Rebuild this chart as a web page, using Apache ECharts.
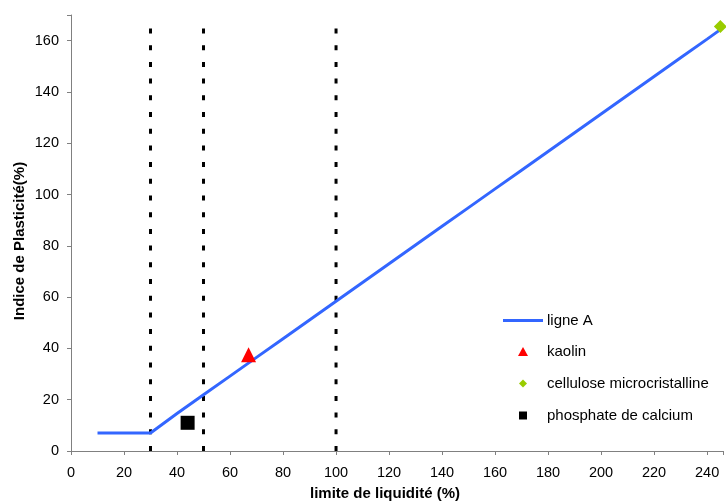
<!DOCTYPE html>
<html>
<head>
<meta charset="utf-8">
<script src="https://cdn.jsdelivr.net/npm/echarts@6/dist/echarts.min.js"></script>
<style>html,body{margin:0;padding:0;background:#fff;}#c{width:726px;height:501px;}</style>
</head>
<body>
<div id="c"></div>
<script>
const ligneA = [[10,7],[20,7],[30,7],[40,14.6],[50,21.9],[60,29.2],[70,36.5],[80,43.8],[90,51.1],[100,58.4],[110,65.7],[120,73],[130,80.3],[140,87.6],[150,94.9],[160,102.2],[170,109.5],[180,116.8],[190,124.1],[200,131.4],[210,138.7],[220,146],[230,153.3],[240,160.6],[245,164.3]];
const kaolin = [[67,37.5]];
const cellulose = [[245,165.5]];
const phosphate = [[44,11]];
const vLines = [30,50,100];
const vLineTop = 165;
const xTicks = [0,20,40,60,80,100,120,140,160,180,200,220,240];
const yTicks = [0,20,40,60,80,100,120,140,160];

const font = 'Liberation Sans, Arial, sans-serif';
const chart = echarts.init(document.getElementById('c'));
const dashSeries = vLines.map(x => ({
  type: 'line', data: [[x,0],[x,vLineTop]], symbol: 'none', silent: true,
  lineStyle: {color: '#000', width: 3, type: [5, 11.7]}, z: 1
}));
const legTxt = {fontSize: 15, fontFamily: font, color: '#000'};
chart.setOption({
  animation: false,
  grid: {left: 71, top: 15, right: 0, bottom: 50},
  xAxis: {
    type: 'value', min: 0, max: 246, interval: 20,
    axisLine: {lineStyle: {color: '#808080', width: 1}},
    axisTick: {inside: false, length: 4, lineStyle: {color: '#808080'}},
    splitLine: {show: false},
    axisLabel: {color: '#000', fontSize: 14.5, fontFamily: font, margin: 14,
      formatter: v => xTicks.includes(v) ? String(v) : ''}
  },
  yAxis: {
    type: 'value', min: 0, max: 170, interval: 20,
    axisLine: {show: true, lineStyle: {color: '#808080', width: 1}},
    axisTick: {show: true, length: 4, lineStyle: {color: '#808080'}},
    splitLine: {show: false},
    axisLabel: {color: '#000', fontSize: 14.5, fontFamily: font, margin: 12,
      formatter: v => yTicks.includes(v) ? String(v) : ''}
  },
  legend: [
    {left: 503, top: 313, padding: 0, itemWidth: 40, itemHeight: 3, textStyle: Object.assign({padding: [0,0,0,-1]}, legTxt),
     data: [{name: 'ligne A', icon: 'rect', itemStyle: {color: '#3366ff'}}]},
    {left: 518, top: 344, padding: 0, itemWidth: 10, itemHeight: 9, textStyle: Object.assign({padding: [0,0,0,14]}, legTxt),
     data: [{name: 'kaolin'}]},
    {left: 519, top: 376, padding: 0, itemWidth: 8, itemHeight: 8, textStyle: Object.assign({padding: [0,0,0,15]}, legTxt),
     data: [{name: 'cellulose microcristalline'}]},
    {left: 519, top: 408, padding: 0, itemWidth: 8, itemHeight: 8, textStyle: Object.assign({padding: [0,0,0,15]}, legTxt),
     data: [{name: 'phosphate de calcium'}]}
  ],
  graphic: [
    {type: 'text', position: [385, 494], style: {text: 'limite de liquidité (%)', font: 'bold 15px ' + font, fill: '#000', textAlign: 'center', textVerticalAlign: 'middle'}},
    {type: 'text', position: [19.5, 241], rotation: Math.PI/2, style: {text: 'Indice de Plasticité(%)', font: 'bold 15px ' + font, fill: '#000', textAlign: 'center', textVerticalAlign: 'middle'}}
  ],
  series: [
    ...dashSeries,
    {name: 'ligne A', type: 'line', data: ligneA, symbol: 'none', lineStyle: {color: '#3366ff', width: 3}, z: 3},
    {name: 'kaolin', type: 'scatter', data: kaolin, symbol: 'triangle', symbolSize: [15, 15], itemStyle: {color: '#ff0000', opacity: 1}, z: 4},
    {name: 'cellulose microcristalline', type: 'scatter', data: cellulose, symbol: 'diamond', symbolSize: 13, itemStyle: {color: '#99cc00', opacity: 1}, z: 4},
    {name: 'phosphate de calcium', type: 'scatter', data: phosphate, symbol: 'rect', symbolSize: 14, itemStyle: {color: '#000', opacity: 1}, z: 4}
  ]
});
</script>
</body>
</html>
